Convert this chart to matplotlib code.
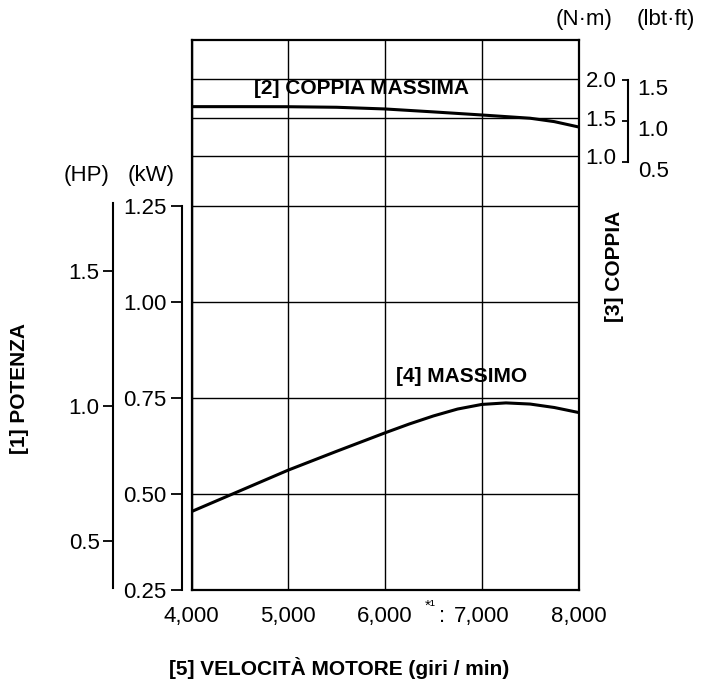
import numpy as np
import matplotlib
matplotlib.use("Agg")
import matplotlib.pyplot as plt
from matplotlib.transforms import ScaledTranslation

plt.rcParams['font.family'] = ['Liberation Sans', 'DejaVu Sans']

# data
power_rpm = [4000, 4500, 5000, 5500, 6000, 6250, 6500, 6750, 7000, 7250, 7500, 7750, 8000]
power_kw = [0.455, 0.509, 0.563, 0.612, 0.660, 0.683, 0.704, 0.722, 0.734, 0.738, 0.735, 0.726, 0.713]

torque_rpm = [4000, 4500, 5000, 5500, 6000, 6500, 7000, 7250, 7500, 7750, 8000]
torque_nm = [1.644, 1.644, 1.643, 1.636, 1.614, 1.576, 1.536, 1.515, 1.494, 1.450, 1.381]

x_ticks = [4000, 5000, 6000, 7000, 8000]
x_labels = ['4,000', '5,000', '6,000', '7,000', '8,000']
kw_ticks = [0.25, 0.50, 0.75, 1.00, 1.25]
kw_labels = ['0.25', '0.50', '0.75', '1.00', '1.25']
hp_ticks = [0.5, 1.0, 1.5]
hp_labels = ['0.5', '1.0', '1.5']
nm_ticks = [1.0, 1.5, 2.0]
nm_labels = ['1.0', '1.5', '2.0']
lbf_ticks = [0.5, 1.0, 1.5]
lbf_labels = ['0.5', '1.0', '1.5']


# the drawing uses kW as its base unit; the other scales are laid onto it
def nm_to_kw(t):
    return 1.4805 + (np.asarray(t, dtype=float) - 1.5) * 0.20104

def kw_to_nm(k):
    return 1.5 + (np.asarray(k, dtype=float) - 1.4805) / 0.20104

def hp_to_kw(h):
    return 0.7307 + (np.asarray(h, dtype=float) - 1.0) * 0.7031

def kw_to_hp(k):
    return 1.0 + (np.asarray(k, dtype=float) - 0.7307) / 0.7031

def lbf_to_kw(f):
    return 1.4725 + (np.asarray(f, dtype=float) - 1.0) * 0.21276

def kw_to_lbf(k):
    return 1.0 + (np.asarray(k, dtype=float) - 1.4725) / 0.21276


W, H = 702, 687
FS = 16
fig = plt.figure(figsize=(W / 100, H / 100), dpi=100)
ax = fig.add_axes([191.5 / W, (H - 590.3) / H, 387 / W, 550.3 / H])

ax.set_xlim(4000, 8000)
ax.set_ylim(0.25, 1.683)

# grid
grid_y = kw_ticks + list(nm_to_kw(nm_ticks))
ax.set_yticks(grid_y)
ax.set_yticklabels([])
ax.tick_params(axis='y', length=0, left=False)
ax.set_xticks(x_ticks)
ax.set_xticklabels(x_labels, fontsize=FS)
ax.tick_params(axis='x', length=0, pad=11)
ax.grid(True, color='black', linewidth=1.0)
for s in ax.spines.values():
    s.set_linewidth(1.6)

ax.plot(power_rpm, power_kw, color='black', lw=2.2, zorder=3)
ax.plot(torque_rpm, nm_to_kw(torque_nm), color='black', lw=2.2, zorder=3)

# kW axis
sec_kw = ax.secondary_yaxis(-10 / 387)
sec_kw.set_yticks(kw_ticks)
sec_kw.set_yticklabels(kw_labels, fontsize=FS)
sec_kw.tick_params(length=8, width=1.3, pad=3)
sec_kw.spines['left'].set_bounds(0.25, 1.25)
sec_kw.spines['left'].set_linewidth(1.5)

# HP axis
sec_hp = ax.secondary_yaxis(-78 / 387, functions=(kw_to_hp, hp_to_kw))
sec_hp.set_yticks(hp_ticks)
sec_hp.set_yticklabels(hp_labels, fontsize=FS)
sec_hp.tick_params(length=7, width=1.3, pad=3)
sec_hp.spines['left'].set_bounds(0.3237, 1.75)
sec_hp.spines['left'].set_linewidth(1.5)

# N·m labels (no spine)
sec_nm = ax.secondary_yaxis(1.0, functions=(kw_to_nm, nm_to_kw))
sec_nm.set_yticks(nm_ticks)
sec_nm.set_yticklabels(nm_labels, fontsize=FS)
sec_nm.tick_params(length=0, pad=5)
sec_nm.spines['right'].set_visible(False)

# lbf·ft axis
sec_lbf = ax.secondary_yaxis(1 + 49.5 / 387, functions=(kw_to_lbf, lbf_to_kw))
sec_lbf.set_yticks(lbf_ticks)
sec_lbf.set_yticklabels(lbf_labels, fontsize=FS)
sec_lbf.tick_params(direction='in', length=4, width=1.3, pad=7)
sec_lbf.spines['right'].set_bounds(0.5, 1.5)
sec_lbf.spines['right'].set_linewidth(1.5)
shift = ScaledTranslation(0, -0.07, fig.dpi_scale_trans)
for lab in sec_lbf.get_yticklabels():
    lab.set_transform(lab.get_transform() + shift)


def px_text(x, y, s, **kw):
    fig.text(x / W, 1 - y / H, s, ha='center', va='center', **kw)


px_text(584, 19, '(N·m)', fontsize=FS)
px_text(666, 19, '(lbt·ft)', fontsize=FS)
px_text(87, 175, '(HP)', fontsize=FS)
px_text(151, 175, '(kW)', fontsize=FS)
px_text(362, 88, '[2] COPPIA MASSIMA', fontsize=15, fontweight='bold')
px_text(462, 376, '[4] MASSIMO', fontsize=15, fontweight='bold')
px_text(614, 266, '[3] COPPIA', fontsize=15, fontweight='bold', rotation=90)
px_text(20, 388, '[1] POTENZA', fontsize=15, fontweight='bold', rotation=90)
px_text(339, 668, '[5] VELOCITÀ MOTORE (giri / min)', fontsize=15, fontweight='bold')
px_text(430, 606, '*¹', fontsize=11)
px_text(442, 617, ':', fontsize=FS)

fig.savefig('out.png', dpi=100)
